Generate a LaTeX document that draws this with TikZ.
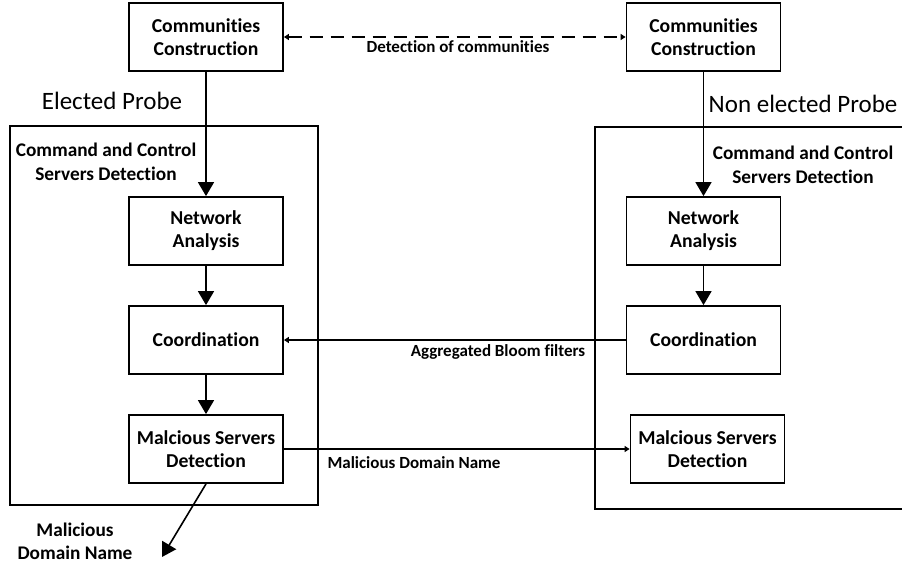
\documentclass[tikz,border=0pt]{standalone}
\usepackage{fontspec}
\setmainfont{Carlito}[Ligatures=CommonOff]
\usetikzlibrary{arrows.meta}
\tikzset{
  box/.style={draw, line width=1.8pt, minimum width=154pt, minimum height=68pt, inner sep=0pt, align=center, font=\fontsize{19.7}{23}\selectfont\bfseries},
  frame/.style={line width=1.8pt},
  lbl/.style={inner sep=0pt, align=center, font=\fontsize{17}{23}\selectfont\bfseries},
  biglbl/.style={inner sep=0pt, align=center, font=\fontsize{19.3}{24.5}\selectfont\bfseries},
  probe/.style={inner sep=0pt, font=\fontsize{25}{30}\selectfont},
  flow/.style={line width=1.6pt, -{Triangle[width=16pt,length=14pt]}},
  thin/.style={line width=1.6pt, -{Triangle[width=6pt,length=5pt]}},
  dlink/.style={line width=1.6pt, dash pattern=on 13pt off 8pt, {Triangle[width=6pt,length=5pt]}-{Triangle[width=6pt,length=5pt]}}
}
\begin{document}
\begin{tikzpicture}[x=1pt,y=-1pt]
\useasboundingbox[fill=white] (0,0) rectangle (902,566);
% outer frames
\draw[frame] (10,126) rectangle (318,505);
\draw[frame] (902,127) -| (595,509) -- (902,509);
% boxes
\node[box] (ccL) at (206,37) {Communities\\Construction};
\node[box] (ccR) at (703.5,37) {Communities\\Construction};
\node[box] (naL) at (206,231) {Network\\Analysis};
\node[box] (naR) at (703.5,231) {Network\\Analysis};
\node[box] (coL) at (206,340) {Coordination};
\node[box] (coR) at (703.5,340) {Coordination};
\node[box] (msL) at (206,449) {Malcious Servers\\Detection};
\node[box] (msR) at (707.5,449) {Malcious Servers\\Detection};
\coordinate (out) at (162,557);
% labels
\node[probe] (epL) at (112,101) {Elected Probe};
\node[probe] (epR) at (803,104) {Non elected Probe};
\node[biglbl] (ccsdL) at (106,162) {Command and Control\\Servers Detection};
\node[biglbl] (ccsdR) at (803,165) {Command and Control\\Servers Detection};
\node[lbl] (dc) at (458,47) {Detection of communities};
\node[lbl] (abf) at (498,352) {Aggregated Bloom filters};
\node[lbl] (mdn) at (414,463) {Malicious Domain Name};
\node[biglbl, font=\fontsize{19.3}{23}\selectfont\bfseries] (mdnout) at (75,541) {Malicious\\Domain Name};
% connectors
\draw[dlink] (ccL.east) -- (ccR.west);
\draw[flow] (ccL) -- (naL);
\draw[flow] (naL) -- (coL);
\draw[flow] (coL) -- (msL);
\draw[flow] (ccR) -- (naR);
\draw[flow] (naR) -- (coR);
\draw[thin] (coR.west) -- (coL.east);
\draw[thin] (msL.east) -- (msR.west);
\draw[flow] (msL.south) -- (out);
\end{tikzpicture}
\end{document}
